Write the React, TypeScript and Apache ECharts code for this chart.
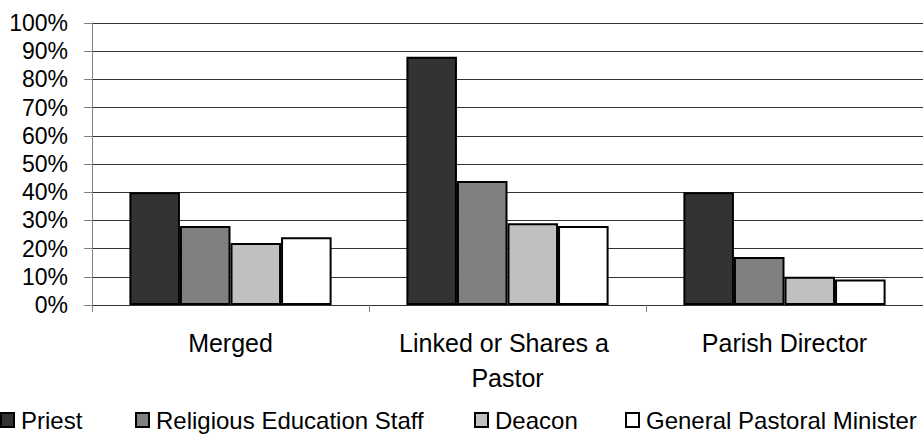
import React, { useEffect, useRef } from "react";
import * as echarts from "echarts";

// Parish structure categories and the share of parishes reporting each staff role
const categories = ["Merged", "Linked or Shares a Pastor", "Parish Director"];
const seriesNames = ["Priest", "Religious Education Staff", "Deacon", "General Pastoral Minister"];
const priest = [40, 88, 40];
const religiousEducation = [28, 44, 17];
const deacon = [22, 29, 10];
const pastoralMinister = [24, 28, 9];
const yTicks = [0, 10, 20, 30, 40, 50, 60, 70, 80, 90, 100];

const seriesValues = [priest, religiousEducation, deacon, pastoralMinister];
const fills = ["#333333", "#808080", "#c0c0c0", "#ffffff"];
const legendLefts = [0, 135, 474, 625];

const FONT = '"Liberation Sans", Arial, sans-serif';

export default function App() {
  const ref = useRef<HTMLDivElement>(null);

  useEffect(() => {
    if (!ref.current) return;
    const chart = echarts.init(ref.current, undefined, { renderer: "svg" });
    chart.setOption({
      animation: false,
      backgroundColor: "#ffffff",
      textStyle: { fontFamily: FONT },
      grid: { left: 92, top: 23, width: 837, height: 282 },
      legend: seriesNames.map((name, i) => ({
        data: [name],
        left: legendLefts[i],
        top: 408,
        itemWidth: 13,
        itemHeight: 14,
        itemGap: 0,
        icon: "rect",
        selectedMode: false,
        textStyle: { fontSize: 24, color: "#000", fontFamily: FONT, padding: [0, 0, 0, 2] },
        padding: 0,
      })),
      xAxis: {
        type: "category",
        data: categories,
        axisLine: { show: true, lineStyle: { color: "#333333", width: 1 } },
        axisTick: { show: true, length: 7, lineStyle: { color: "#808080" } },
        axisLabel: {
          fontSize: 25,
          color: "#000",
          fontFamily: FONT,
          margin: 21,
          lineHeight: 34.5,
          width: 250,
          overflow: "break",
          interval: 0,
        },
        splitLine: { show: false },
      },
      yAxis: {
        type: "value",
        min: yTicks[0],
        max: yTicks[yTicks.length - 1],
        interval: yTicks[1] - yTicks[0],
        axisLine: { show: true, lineStyle: { color: "#808080", width: 1 } },
        axisTick: { show: true, length: 8, lineStyle: { color: "#808080" } },
        axisLabel: {
          formatter: "{value}%",
          fontSize: 23,
          color: "#000",
          fontFamily: FONT,
          margin: 24,
        },
        splitLine: { show: true, lineStyle: { color: "#333333", width: 1 } },
      },
      series: seriesNames.map((name, i) => ({
        name,
        type: "bar",
        data: seriesValues[i],
        barGap: "0%",
        barCategoryGap: "27%",
        itemStyle: { color: fills[i], borderColor: "#000", borderWidth: 2 },
      })),
    });
    return () => chart.dispose();
  }, []);

  return <div ref={ref} style={{ width: 923, height: 435, position: "absolute", left: 0, top: 0 }} />;
}
